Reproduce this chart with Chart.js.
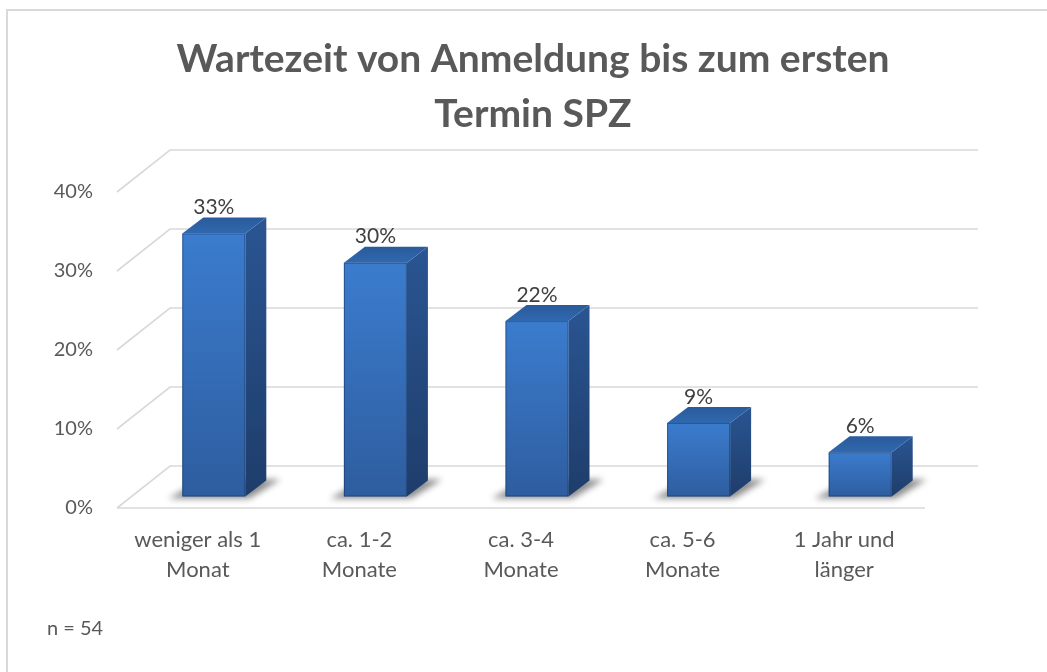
<!DOCTYPE html>
<html>
<head>
<meta charset="utf-8">
<script src="https://cdn.jsdelivr.net/npm/chart.js@4.4.1/dist/chart.umd.min.js"></script>
<style>
  html, body { margin: 0; padding: 0; background: #ffffff; }
  #wrap { width: 1047px; height: 672px; position: relative; }
</style>
</head>
<body>
<div id="wrap"><canvas id="c" width="1047" height="672"></canvas></div>
<script>
// ---- data ----
const titleLines = ['Wartezeit von Anmeldung bis zum ersten', 'Termin SPZ'];
const categories = [
  ['weniger als 1', 'Monat'],
  ['ca. 1-2', 'Monate'],
  ['ca. 3-4', 'Monate'],
  ['ca. 5-6', 'Monate'],
  ['1 Jahr und', 'länger']
];
const percentValues = [33.3, 29.6, 22.2, 9.3, 5.6];
const yTickValues = [0, 10, 20, 30, 40];
const footnote = 'n = 54';

// ---- styles ----
const FONT = 'Lato, "Open Sans", "DejaVu Sans", sans-serif';
const TEXT = '#595959';
const GRID = '#d9d9d9';
const DEPTH = { x: 53, y: -42 };       // 3D wall depth
const BAR_OFF = { x: 16, y: -11.5 };   // bar front plane offset
const BAR_DEPTH = { x: 21, y: -16 };   // bar thickness

const frame3d = {
  id: 'frame3d',
  beforeDraw(chart) {
    const ctx = chart.ctx;
    ctx.save();
    ctx.fillStyle = '#ffffff';
    ctx.fillRect(0, 0, chart.width, chart.height);
    ctx.strokeStyle = GRID;
    ctx.lineWidth = 2;
    ctx.strokeRect(7, 10, chart.width + 10, chart.height + 10);
    ctx.restore();
  },
  beforeDatasetsDraw(chart) {
    const ctx = chart.ctx;
    const y = chart.scales.y, a = chart.chartArea;
    ctx.save();
    ctx.strokeStyle = GRID;
    ctx.lineWidth = 1.6;
    yTickValues.forEach(v => {
      const py = y.getPixelForValue(v);
      ctx.beginPath();
      ctx.moveTo(a.left, py);
      ctx.lineTo(a.left + DEPTH.x, py + DEPTH.y);
      ctx.lineTo(a.right + DEPTH.x, py + DEPTH.y);
      ctx.stroke();
      if (v === yTickValues[0]) {
        ctx.beginPath();
        ctx.moveTo(a.left, py);
        ctx.lineTo(a.right, py);
        ctx.stroke();
      }
    });
    ctx.restore();
  },
  afterDatasetsDraw(chart) {
    const ctx = chart.ctx;
    const meta = chart.getDatasetMeta(0);
    ctx.save();
    meta.data.forEach((el, i) => {
      const w = el.width;
      const x0 = el.x - w / 2 + BAR_OFF.x, x1 = x0 + w;
      const yT = el.y + BAR_OFF.y, yB = el.base + BAR_OFF.y;
      const sx = BAR_DEPTH.x, sy = BAR_DEPTH.y;
      // floor shadow
      ctx.save();
      ctx.filter = 'blur(3px)';
      ctx.fillStyle = 'rgba(0,0,0,0.45)';
      ctx.beginPath();
      ctx.moveTo(x0 - 14, yB + 2);
      ctx.lineTo(x1 + 4, yB + 2);
      ctx.lineTo(x1 + sx + 14, yB + sy - 1);
      ctx.lineTo(x0 + sx, yB + sy - 1);
      ctx.closePath();
      ctx.fill();
      ctx.restore();
      // side face
      let g = ctx.createLinearGradient(0, yT + sy, 0, yB);
      g.addColorStop(0, '#2a5592');
      g.addColorStop(1, '#1e3d6b');
      ctx.fillStyle = g;
      ctx.beginPath();
      ctx.moveTo(x1, yT);
      ctx.lineTo(x1 + sx, yT + sy);
      ctx.lineTo(x1 + sx, yB + sy);
      ctx.lineTo(x1, yB);
      ctx.closePath();
      ctx.fill();
      // top face
      g = ctx.createLinearGradient(0, yT + sy, 0, yT);
      g.addColorStop(0, '#2a5b9c');
      g.addColorStop(1, '#3068ae');
      ctx.fillStyle = g;
      ctx.beginPath();
      ctx.moveTo(x0, yT);
      ctx.lineTo(x0 + sx, yT + sy);
      ctx.lineTo(x1 + sx, yT + sy);
      ctx.lineTo(x1, yT);
      ctx.closePath();
      ctx.fill();
      // front face
      g = ctx.createLinearGradient(0, yT, 0, yB);
      g.addColorStop(0, '#3b7cce');
      g.addColorStop(1, '#2e5d9f');
      ctx.fillStyle = g;
      ctx.fillRect(x0, yT, w, yB - yT);
      // subtle edge
      ctx.strokeStyle = 'rgba(20,45,90,0.5)';
      ctx.lineWidth = 1;
      ctx.strokeRect(x0 + 0.5, yT + 0.5, w - 1, yB - yT - 1);
      // value label
      ctx.fillStyle = '#404040';
      ctx.font = '21px ' + FONT;
      ctx.textAlign = 'center';
      ctx.textBaseline = 'middle';
      ctx.fillText(Math.round(percentValues[i]) + '%', x0 + w / 2, yT - 26);
    });
    ctx.restore();
  },
  afterDraw(chart) {
    const ctx = chart.ctx;
    ctx.save();
    ctx.fillStyle = TEXT;
    ctx.font = 'bold 39px ' + FONT;
    ctx.textAlign = 'center';
    ctx.textBaseline = 'alphabetic';
    titleLines.forEach((t, i) => ctx.fillText(t, 533, 72 + i * 55));
    ctx.font = '20px ' + FONT;
    ctx.textAlign = 'left';
    ctx.textBaseline = 'middle';
    ctx.fillText(footnote, 47, 629);
    ctx.restore();
  }
};

new Chart(document.getElementById('c'), {
  type: 'bar',
  data: {
    labels: categories,
    datasets: [{
      data: percentValues,
      backgroundColor: 'rgba(0,0,0,0)',
      borderWidth: 0,
      categoryPercentage: 1,
      barPercentage: 0.39
    }]
  },
  options: {
    responsive: false,
    animation: false,
    devicePixelRatio: 1,
    layout: { padding: { top: 192, left: 0, right: 122, bottom: 0 } },
    plugins: { legend: { display: false }, tooltip: { enabled: false }, title: { display: false } },
    scales: {
      x: {
        grid: { display: false, drawTicks: false },
        border: { display: false },
        ticks: { color: TEXT, font: { family: FONT, size: 22, lineHeight: 1.36 }, padding: 17, maxRotation: 0, autoSkip: false },
        afterFit(s) { s.height = 164; }
      },
      y: {
        min: 0, max: 40,
        grid: { display: false, drawTicks: false },
        border: { display: false },
        ticks: { stepSize: 10, color: TEXT, font: { family: FONT, size: 20 }, padding: 24, callback: v => v + '%' },
        afterFit(s) { s.width = 117; }
      }
    }
  },
  plugins: [frame3d]
});
</script>
</body>
</html>
